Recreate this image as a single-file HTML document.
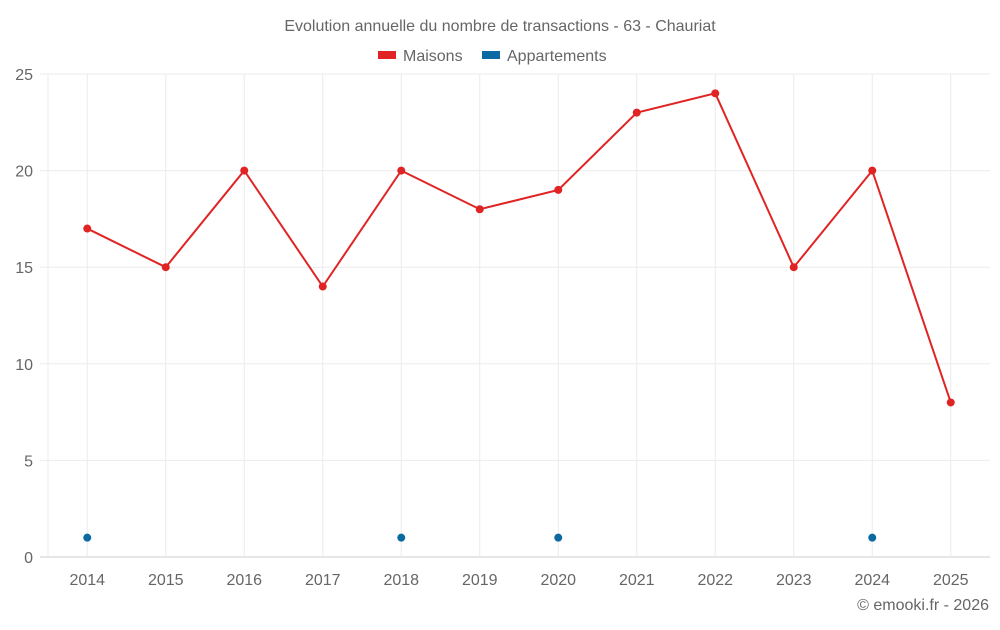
<!DOCTYPE html>
<html><head><meta charset="utf-8"><style>
body{margin:0;background:#fff;font-family:"Liberation Sans",sans-serif}
svg text{font-family:"Liberation Sans",sans-serif;fill:#666}
</style></head><body>
<svg id="c" width="1000" height="625">
<text x="500" y="31" text-anchor="middle" font-size="16">Evolution annuelle du nombre de transactions - 63 - Chauriat</text>
<g>
<g><rect x="378" y="51" width="18" height="8" fill="#e02424"/><text x="403" y="61" font-size="16">Maisons</text></g>
<g><rect x="482" y="51" width="18" height="8" fill="#0a6aa1"/><text x="507" y="61" font-size="16">Appartements</text></g>
</g>
<g id="grid"></g><g id="axes"></g><g id="marks"></g>
<text x="989" y="610" text-anchor="end" font-size="16">© emooki.fr - 2026</text>
</svg>
<script>
const categories=["2014","2015","2016","2017","2018","2019","2020","2021","2022","2023","2024","2025"];
const maisons=[17,15,20,14,20,18,19,23,24,15,20,8];
const appartements=[1,null,null,null,1,null,1,null,null,null,1,null];
const yTicks=[0,5,10,15,20,25];
const L=48,R=990,T=74,B=557,yMax=25;
const bw=(R-L)/categories.length;
const x=i=>L+bw*(i+0.5);
const y=v=>B-(B-T)*v/yMax;
const ns="http://www.w3.org/2000/svg";
function mk(p,t,a){const e=document.createElementNS(ns,t);for(const k in a)e.setAttribute(k,a[k]);p.appendChild(e);return e;}
const g=document.getElementById('grid'),ax=document.getElementById('axes'),m=document.getElementById('marks');
yTicks.forEach(v=>{
 const l=mk(g,'line',{x1:40,x2:R,y1:y(v),y2:y(v),stroke:v===0?'#ccc':'#ebebeb'});
 
 
 const t=mk(ax,'text',{x:33,y:y(v)+6,'text-anchor':'end','font-size':16});t.textContent=v;
 
 
});
const le=mk(g,'line',{x1:L,x2:L,y1:T,y2:B,stroke:'#ebebeb'});


categories.forEach((c,i)=>{
 const l=mk(g,'line',{x1:x(i),x2:x(i),y1:T,y2:B,stroke:'#ebebeb'});
 
 
 const t=mk(ax,'text',{x:x(i),y:585,'text-anchor':'middle','font-size':16});t.textContent=c;
 
 
});
const pl=mk(m,'polyline',{points:maisons.map((v,i)=>x(i)+','+y(v)).join(' '),fill:'none',stroke:'#e02424','stroke-width':2});


maisons.forEach((v,i)=>{
 const c=mk(m,'circle',{cx:x(i),cy:y(v),r:4,fill:'#e02424'});
 
 
});
appartements.forEach((v,i)=>{
 if(v==null)return;
 const c=mk(m,'circle',{cx:x(i),cy:y(v),r:4,fill:'#0a6aa1'});
 
 
});
</script>
</body></html>
